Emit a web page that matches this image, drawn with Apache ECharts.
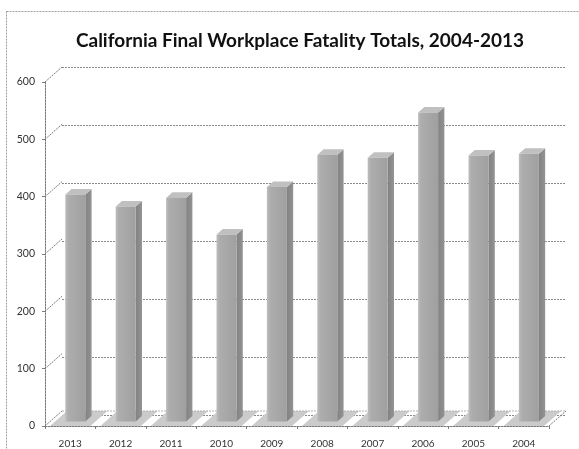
<!DOCTYPE html>
<html>
<head>
<meta charset="utf-8">
<script src="https://cdn.jsdelivr.net/npm/echarts@6/dist/echarts.min.js"></script>
<style>
  html, body { margin: 0; padding: 0; background: #fff; }
  #chart { width: 579px; height: 449px; }
</style>
</head>
<body>
<div id="chart"></div>
<script>
// Final workplace fatality totals by year (newest first)
const years = ['2013', '2012', '2011', '2010', '2009', '2008', '2007', '2006', '2005', '2004'];
const fatalities = [396, 375, 390, 326, 409, 465, 460, 539, 464, 467];
const yTicks = [0, 100, 200, 300, 400, 500, 600];

// Pseudo-3D geometry: offset of the back wall relative to the front plane
const DX = 17, DY = -15;
const BAR_FRONT = 0.3, BAR_BACK = 0.67;   // depth fractions occupied by each column
const BAR_W = 20;

const GRID_LEFT = 45, GRID_RIGHT = 30, GRID_TOP = 82, GRID_BOTTOM = 19;

const chart = echarts.init(document.getElementById('chart'));

function renderConnector(params, api) {
  // diagonal from the front value axis up to the matching back-wall gridline
  const v = api.value(0);
  const p = api.coord([0, v]);
  const x0 = params.coordSys.x;
  return {
    type: 'line',
    shape: { x1: x0, y1: p[1], x2: x0 + DX, y2: p[1] + DY },
    style: { stroke: '#7a7a7a', lineWidth: 1, lineDash: [2, 1] },
    silent: true
  };
}

function renderFloor(params, api) {
  const i = api.value(0);
  const c = api.coord([i, 0]);
  const band = api.size([1, 0])[0];
  const inset = 5;
  const xl = c[0] - band / 2 + inset, xr = c[0] + band / 2 - inset;
  const y = c[1];
  return {
    type: 'polygon',
    shape: { points: [[xl, y], [xr, y], [xr + DX, y + DY], [xl + DX, y + DY]] },
    style: { fill: '#cbcbcb' },
    silent: true
  };
}

function renderFloorEdges(params, api) {
  const cs = params.coordSys;
  const y = cs.y + cs.height;
  const xr = cs.x + cs.width;
  return {
    type: 'group',
    children: [
      { type: 'line', shape: { x1: xr, y1: y, x2: xr + DX, y2: y + DY },
        style: { stroke: '#7a7a7a', lineWidth: 1, lineDash: [2, 1] } },
      { type: 'line', shape: { x1: cs.x + DX, y1: y + DY, x2: xr + DX, y2: y + DY },
        style: { stroke: '#b0b0b0', lineWidth: 1, lineDash: [2, 1] } }
    ],
    silent: true
  };
}

function renderColumn(params, api) {
  const i = api.value(0), v = api.value(1);
  const top = api.coord([i, v]);
  const base = api.coord([i, 0]);
  const fx = BAR_FRONT * DX, fy = BAR_FRONT * DY;
  const ddx = (BAR_BACK - BAR_FRONT) * DX, ddy = (BAR_BACK - BAR_FRONT) * DY;
  const xl = top[0] - BAR_W / 2 + fx, xr = xl + BAR_W;
  const yt = top[1] + fy, yb = base[1] + fy;
  return {
    type: 'group',
    children: [
      {
        type: 'polygon',
        shape: { points: [[xr, yt], [xr + ddx, yt + ddy], [xr + ddx, yb + ddy], [xr, yb]] },
        style: { fill: new echarts.graphic.LinearGradient(0, 0, 1, 0, [
          { offset: 0, color: '#828282' }, { offset: 1, color: '#939393' }
        ]) }
      },
      {
        type: 'polygon',
        shape: { points: [[xl, yt], [xr, yt], [xr + ddx, yt + ddy], [xl + ddx, yt + ddy]] },
        style: { fill: '#c0c0c0' }
      },
      {
        type: 'rect',
        shape: { x: xl, y: yt, width: BAR_W, height: yb - yt },
        style: { fill: new echarts.graphic.LinearGradient(0, 0, 1, 0, [
          { offset: 0, color: '#bdbdbd' },
          { offset: 0.15, color: '#adadad' },
          { offset: 1, color: '#a0a0a0' }
        ]) }
      }
    ]
  };
}

const option = {
  backgroundColor: '#ffffff',
  animation: false,
  title: {
    text: 'California Final Workplace Fatality Totals, 2004-2013',
    left: 295,
    textAlign: 'center',
    top: 26,
    textStyle: { fontFamily: 'Lato', fontWeight: 'bold', fontSize: 19, color: '#111' }
  },
  graphic: [
    {
      type: 'rect',
      shape: { x: 6.5, y: 11.5, width: 620, height: 500 },
      style: { fill: null, stroke: '#a0a0a0', lineWidth: 1, lineDash: [2, 1] },
      silent: true,
      z: -1
    }
  ],
  grid: [
    { left: GRID_LEFT, right: GRID_RIGHT, top: GRID_TOP, bottom: GRID_BOTTOM },
    { left: GRID_LEFT + DX, right: GRID_RIGHT - DX, top: GRID_TOP + DY, bottom: GRID_BOTTOM - DY }
  ],
  xAxis: [
    {
      type: 'category',
      gridIndex: 0,
      data: years,
      axisLine: { show: true, lineStyle: { color: '#7a7a7a', type: [2, 1] } },
      axisTick: { show: true, length: 3, lineStyle: { color: '#7a7a7a' } },
      axisLabel: { margin: 13, fontFamily: 'Lato', fontSize: 10, color: '#333' },
      splitLine: { show: false }
    },
    {
      type: 'category',
      gridIndex: 1,
      data: years,
      show: false
    }
  ],
  yAxis: [
    {
      type: 'value',
      gridIndex: 0,
      min: 0, max: 600, interval: 100,
      axisLine: { show: true, lineStyle: { color: '#7a7a7a', type: [2, 1] } },
      axisTick: { show: true, length: 3, lineStyle: { color: '#7a7a7a' } },
      axisLabel: { margin: 10, fontFamily: 'Lato', fontSize: 10.5, color: '#333',
                   formatter: v => (yTicks.indexOf(v) >= 0 ? String(v) : '') },
      splitLine: { show: false }
    },
    {
      type: 'value',
      gridIndex: 1,
      min: 0, max: 600, interval: 100,
      axisLine: { show: false },
      axisTick: { show: false },
      axisLabel: { show: false },
      splitLine: { show: true, lineStyle: { color: '#8a8a8a', width: 1, type: [2, 1] } }
    }
  ],
  series: [
    {
      type: 'custom',
      name: 'floor',
      xAxisIndex: 0, yAxisIndex: 0,
      renderItem: renderFloor,
      data: years.map((y, i) => [i]),
      z: 1
    },
    {
      type: 'custom',
      name: 'floorEdges',
      xAxisIndex: 0, yAxisIndex: 0,
      renderItem: renderFloorEdges,
      data: [[0]],
      z: 1
    },
    {
      type: 'custom',
      name: 'connectors',
      xAxisIndex: 0, yAxisIndex: 0,
      renderItem: renderConnector,
      encode: { y: 0 },
      data: yTicks.map(v => [v]),
      z: 1
    },
    {
      type: 'custom',
      name: 'Fatalities',
      xAxisIndex: 0, yAxisIndex: 0,
      renderItem: renderColumn,
      encode: { x: 0, y: 1 },
      data: fatalities.map((v, i) => [i, v]),
      z: 3
    }
  ]
};

chart.setOption(option);
</script>
</body>
</html>
